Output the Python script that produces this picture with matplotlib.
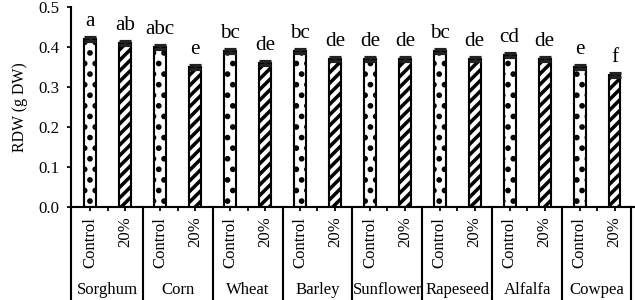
import numpy as np
import matplotlib
matplotlib.use("Agg")
import matplotlib.pyplot as plt
from matplotlib.transforms import blended_transform_factory

# data
crops     = ["Sorghum", "Corn", "Wheat", "Barley", "Sunflower", "Rapeseed", "Alfalfa", "Cowpea"]
treat     = ["Control", "20%"]
control   = [0.42, 0.40, 0.39, 0.39, 0.37, 0.39, 0.38, 0.35]
stress    = [0.41, 0.35, 0.36, 0.37, 0.37, 0.37, 0.37, 0.33]
ctrl_err  = [0.005, 0.005, 0.005, 0.005, 0.005, 0.005, 0.005, 0.005]
str_err   = [0.005, 0.005, 0.005, 0.005, 0.005, 0.005, 0.005, 0.004]
ctrl_lett = ["a", "abc", "bc", "bc", "de", "bc", "cd", "e"]
str_lett  = ["ab", "e", "de", "de", "de", "de", "de", "f"]

plt.rcParams["font.family"] = ["Liberation Serif", "DejaVu Serif"]
plt.rcParams["hatch.linewidth"] = 2.0

fig = plt.figure(figsize=(5, 300 / 127), dpi=127)
ax = fig.add_axes([0.112, 0.31, 0.886, 0.667])

n = len(crops)
xc = np.arange(n) * 2
xs = xc + 1
w = 0.34

ax.bar(xc, control, width=w, color="white", edgecolor="black",
       linewidth=1.2, hatch="..", zorder=2)
ax.bar(xs, stress, width=w, color="white", edgecolor="black",
       linewidth=1.2, hatch="////", zorder=2)
ax.errorbar(xc, control, yerr=ctrl_err, fmt="none", ecolor="#222222",
            elinewidth=1.5, capsize=3.4, capthick=1.8, zorder=3)
ax.errorbar(xs, stress, yerr=str_err, fmt="none", ecolor="#222222",
            elinewidth=1.5, capsize=3.4, capthick=1.8, zorder=3)

for i in range(n):
    ax.text(xc[i], control[i] + ctrl_err[i] + 0.028, ctrl_lett[i],
            ha="center", va="baseline", fontsize=12)
    ax.text(xs[i], stress[i] + str_err[i] + 0.028, str_lett[i],
            ha="center", va="baseline", fontsize=12)

ax.set_xlim(-0.55, 2 * n - 0.45)
ax.set_ylim(0, 0.5)
ax.set_yticks(np.arange(0, 0.51, 0.1))
ax.set_yticklabels([f"{v:.1f}" for v in np.arange(0, 0.51, 0.1)])
ax.set_ylabel("RDW (g DW)", fontsize=9, labelpad=6)

ticks = np.arange(2 * n)
ax.set_xticks(ticks)
ax.set_xticklabels(treat * n, rotation=90, va="top", fontsize=9.5)
ax.set_xticks(np.arange(n) * 2 + 0.5, minor=True)
ax.tick_params(axis="x", which="both", direction="out", length=2.5, width=1, pad=3)
ax.tick_params(axis="y", direction="out", length=2.5, width=1, pad=4, labelsize=9.5)

for s in ["top", "right"]:
    ax.spines[s].set_visible(False)
for s in ["left", "bottom"]:
    ax.spines[s].set_linewidth(1.2)

# group boxes under the axis
trans = blended_transform_factory(ax.transData, ax.transAxes)
bounds = np.arange(n + 1) * 2 - 0.5
bounds[0] = -0.55
bounds[-1] = 2 * n - 0.52
for b in bounds:
    ax.plot([b, b], [0, -0.47], color="black", lw=1.2, transform=trans,
            clip_on=False)
for i, c in enumerate(crops):
    ax.text(xc[i] + 0.5, -0.415, c, transform=trans, ha="center", va="center",
            fontsize=9.5)

fig.savefig("out.png", dpi=127, facecolor="white")
